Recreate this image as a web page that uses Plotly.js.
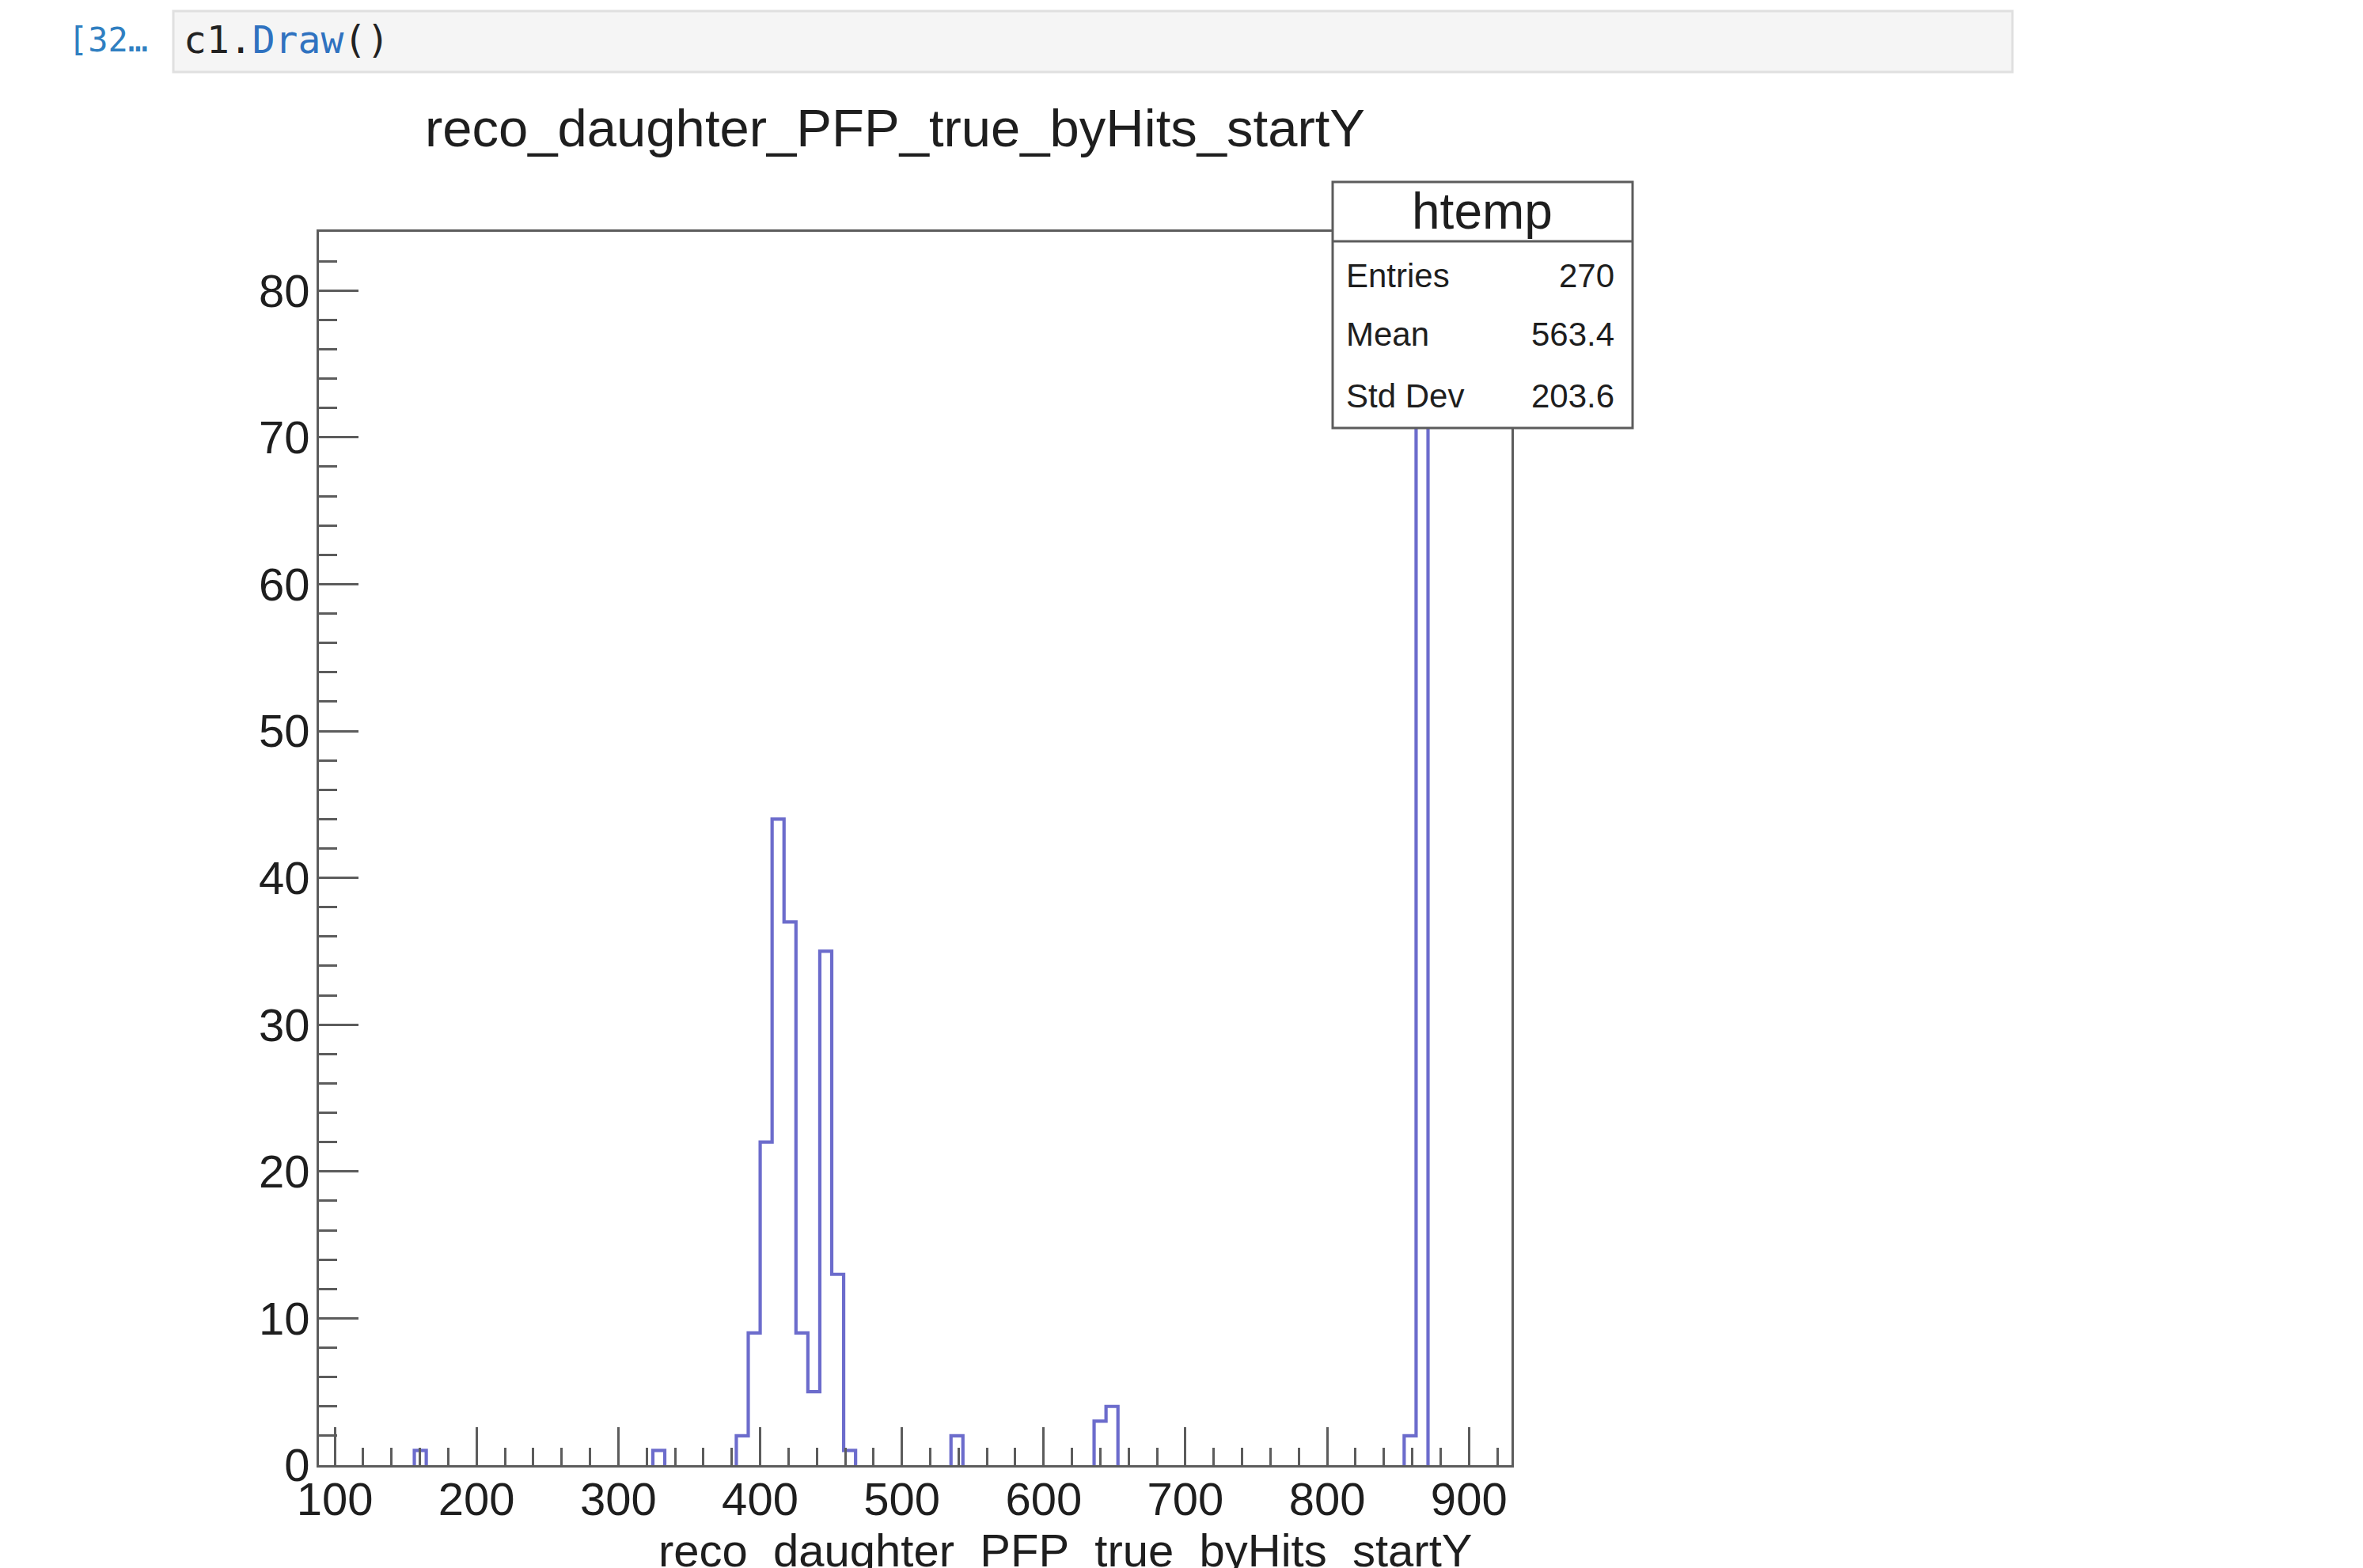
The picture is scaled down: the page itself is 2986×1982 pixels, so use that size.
<!DOCTYPE html>
<html>
<head>
<meta charset="utf-8">
<script src="https://cdn.plot.ly/plotly-3.0.1.min.js"></script>
<style>
  html, body { margin: 0; padding: 0; background: #ffffff; overflow: hidden; }
  #chart { width: 2986px; height: 1982px; }
</style>
</head>
<body>
<div id="chart"></div>
<script>
// ---- Histogram definition (ROOT "htemp") ----
const histName  = "htemp";
const histTitle = "reco_daughter_PFP_true_byHits_startY";
const axisTitle = "reco_daughter_PFP_true_byHits_startY";
const nBins = 100;
const xMin  = 88.8;
const xMax  = 930.0;

// non-empty bins (0-based index) and their contents
const filledBins = [8, 28, 35, 36, 37, 38, 39, 40, 41, 42, 43, 44, 53, 65, 66, 91, 92];
const binCounts  = [1, 1,  2,  9, 22, 44, 37,  9,  5, 35, 13,  1,  2,  3,  4,  2, 80];

// axis ticks
const xTickVals  = [100, 200, 300, 400, 500, 600, 700, 800, 900];
const xTickText  = ["100", "200", "300", "400", "500", "600", "700", "800", "900"];
const yTickVals  = [0, 10, 20, 30, 40, 50, 60, 70, 80];
const yTickText  = ["0", "10", "20", "30", "40", "50", "60", "70", "80"];

// statistics box
const statLabels = ["Entries", "Mean", "Std Dev"];
const statValues = ["270", "563.4", "203.6"];

// notebook cell header
const promptText = "[32\u2026";
const codeText   = "c1.<span style=\"color:#2f72c0\">Draw</span>()";

// ---- build step outline from the bins (zero runs left out: they lie on the axis) ----
const counts = new Array(nBins).fill(0);
filledBins.forEach((b, i) => { counts[b] = binCounts[i]; });
const bw = (xMax - xMin) / nBins;
const edges = [];
for (let k = 0; k <= nBins; k++) edges.push(xMin + k * bw);
const stepX = [], stepY = [];
let k = 0;
while (k < nBins) {
  if (counts[k] > 0) {
    stepX.push(edges[k]); stepY.push(0);
    while (k < nBins && counts[k] > 0) {
      stepX.push(edges[k]);     stepY.push(counts[k]);
      stepX.push(edges[k + 1]); stepY.push(counts[k]);
      k++;
    }
    stepX.push(edges[k]); stepY.push(0);
    stepX.push(null); stepY.push(null);
  } else {
    k++;
  }
}
const yMax = Math.max(...binCounts) * 1.05;

// ---- page geometry (pixels) ----
const W = 2986, H = 1982;
const L = 403, R = 1910, T = 293, B = 1852;
const px = x => (x - L) / (R - L);
const py = y => (B - y) / (B - T);

const FONT = '"Liberation Sans", Arial, Helvetica, sans-serif';
const MONO = '"DejaVu Sans Mono", "Liberation Mono", monospace';
const TXT = '#1e1e1e';
const FRAME = '#5c5c5c';

const trace = {
  type: 'scatter',
  mode: 'lines',
  x: stepX,
  y: stepY,
  connectgaps: false,
  line: { shape: 'linear', color: '#6c6ccc', width: 4.2 },
  hoverinfo: 'skip'
};

const annotations = [];
// stats box title
annotations.push({ xref: 'paper', yref: 'paper', x: px(1873), y: py(267), xanchor: 'center', yanchor: 'middle',
  text: histName, showarrow: false, font: { family: FONT, size: 64, color: TXT } });
const rowY = [348, 423, 500];
statLabels.forEach((lab, i) => {
  annotations.push({ xref: 'paper', yref: 'paper', x: px(1699), y: py(rowY[i]), xanchor: 'left', yanchor: 'middle',
    text: lab, showarrow: false, font: { family: FONT, size: 42, color: TXT } });
  annotations.push({ xref: 'paper', yref: 'paper', x: px(2042), y: py(rowY[i]), xanchor: 'right', yanchor: 'middle',
    text: statValues[i], showarrow: false, font: { family: FONT, size: 42, color: TXT } });
});
// x axis title (right aligned, ROOT style)
annotations.push({ xref: 'paper', yref: 'paper', x: px(1862), y: py(1959), xanchor: 'right', yanchor: 'middle',
  text: axisTitle, showarrow: false, font: { family: FONT, size: 58, color: TXT } });
// notebook header
annotations.push({ xref: 'paper', yref: 'paper', x: px(84), y: py(50), xanchor: 'left', yanchor: 'middle',
  text: promptText, showarrow: false, font: { family: MONO, size: 42, color: '#307fc1' } });
annotations.push({ xref: 'paper', yref: 'paper', x: px(230), y: py(50), xanchor: 'left', yanchor: 'middle',
  text: codeText, showarrow: false, font: { family: MONO, size: 48, color: '#222222' } });

const shapes = [
  // notebook input box
  { type: 'rect', xref: 'paper', yref: 'paper', x0: px(219), x1: px(2543), y0: py(91), y1: py(14),
    fillcolor: '#f5f5f5', line: { color: '#e0e0e0', width: 3 }, layer: 'above' },
  // stats box
  { type: 'rect', xref: 'paper', yref: 'paper', x0: px(1684), x1: px(2063), y0: py(541), y1: py(230),
    fillcolor: '#ffffff', line: { color: FRAME, width: 3 }, layer: 'above' },
  { type: 'line', xref: 'paper', yref: 'paper', x0: px(1684), x1: px(2063), y0: py(305), y1: py(305),
    line: { color: FRAME, width: 3 }, layer: 'above' }
];

const layout = {
  width: W, height: H,
  margin: { l: L, r: W - R, t: T, b: H - B, pad: 0, autoexpand: false },
  paper_bgcolor: '#ffffff',
  plot_bgcolor: '#ffffff',
  showlegend: false,
  font: { family: FONT, color: TXT },
  title: {
    text: histTitle,
    xref: 'container', yref: 'container',
    x: 1131 / W, xanchor: 'center',
    y: 1 - 162 / H, yanchor: 'middle',
    font: { family: FONT, size: 67, color: TXT }
  },
  xaxis: {
    range: [xMin, xMax],
    tickmode: 'array', tickvals: xTickVals, ticktext: xTickText,
    ticks: 'inside', ticklen: 48, tickwidth: 3, tickcolor: FRAME,
    minor: { tickmode: 'linear', tick0: 0, dtick: 20, ticks: 'inside', ticklen: 22, tickwidth: 3, tickcolor: FRAME, showgrid: false },
    showline: true, mirror: true, linecolor: FRAME, linewidth: 3,
    showgrid: false, zeroline: false,
    ticklabelstandoff: -10,
    tickfont: { family: FONT, size: 58, color: TXT },
    fixedrange: true
  },
  yaxis: {
    range: [0, yMax],
    tickmode: 'array', tickvals: yTickVals, ticktext: yTickText,
    ticks: 'inside', ticklen: 50, tickwidth: 3, tickcolor: FRAME,
    minor: { tickmode: 'linear', tick0: 0, dtick: 2, ticks: 'inside', ticklen: 23, tickwidth: 3, tickcolor: FRAME, showgrid: false },
    showline: true, mirror: true, linecolor: FRAME, linewidth: 3,
    showgrid: false, zeroline: false,
    ticklabelstandoff: -3,
    tickfont: { family: FONT, size: 58, color: TXT },
    fixedrange: true
  },
  shapes: shapes,
  annotations: annotations
};

Plotly.newPlot('chart', [trace], layout, { staticPlot: true, displayModeBar: false });
</script>
</body>
</html>
